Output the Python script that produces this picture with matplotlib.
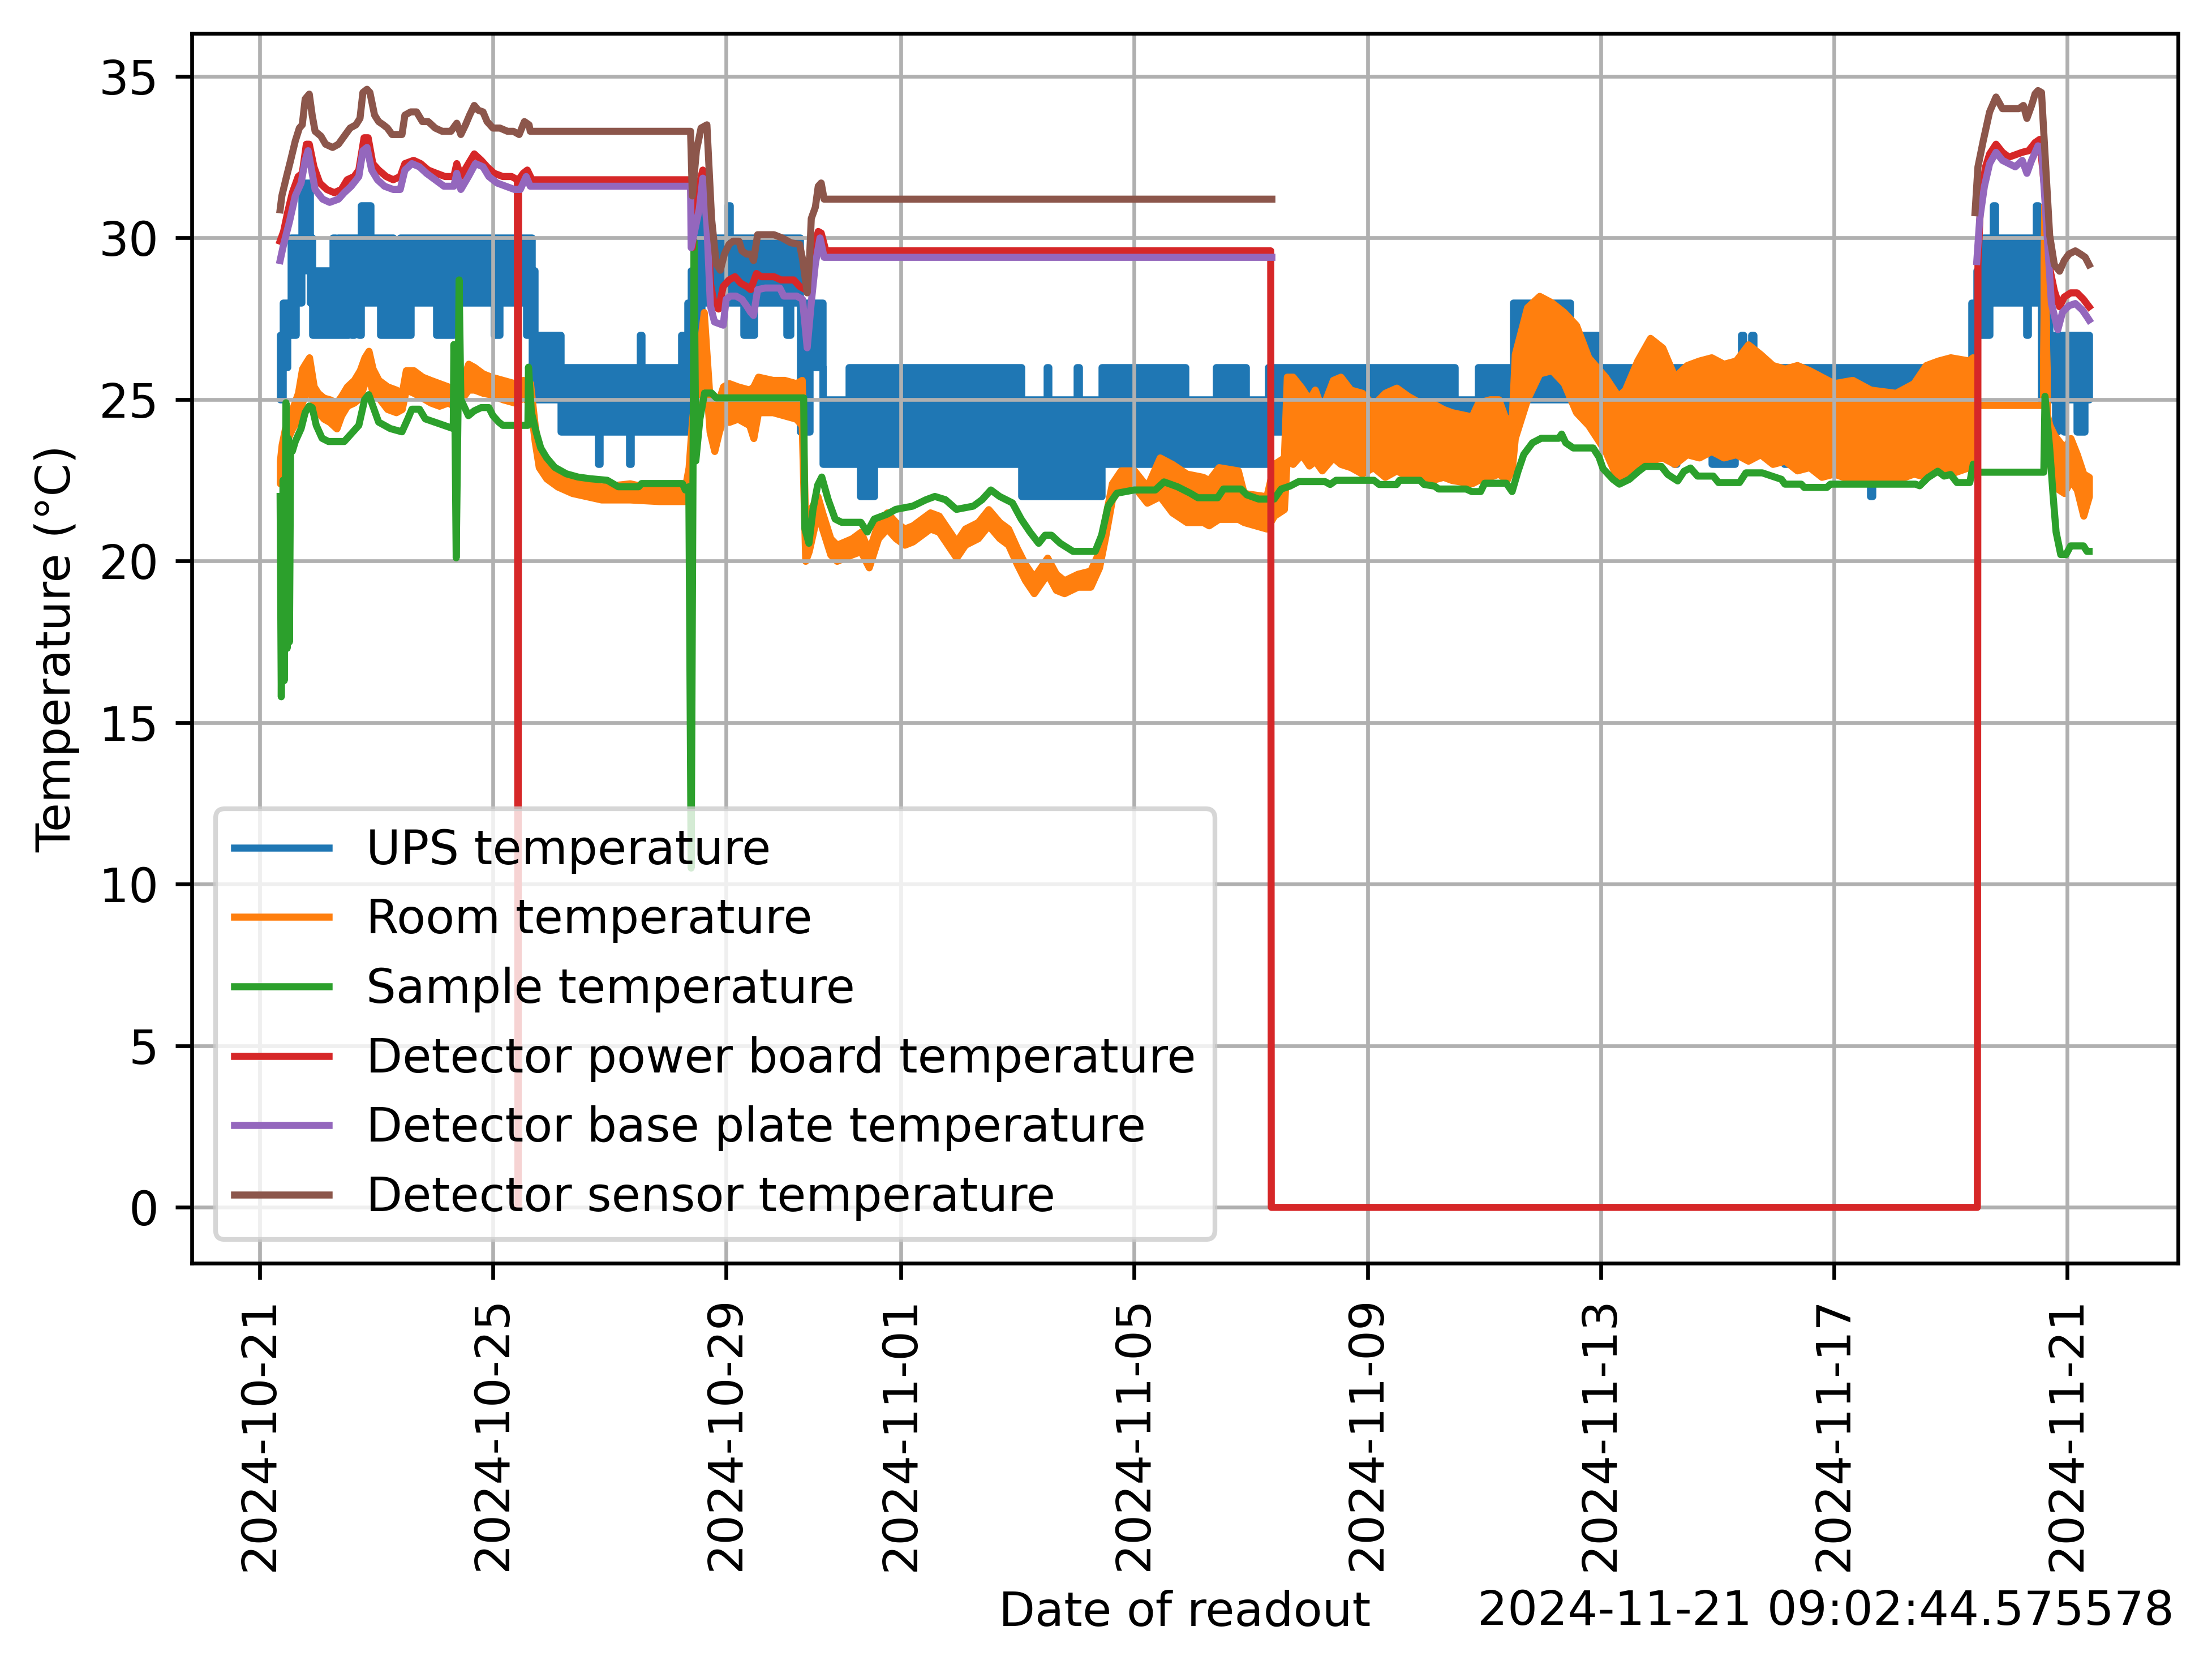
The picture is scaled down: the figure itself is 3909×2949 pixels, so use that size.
import numpy as np
import pandas as pd
import matplotlib
matplotlib.use('Agg')
import matplotlib.pyplot as plt
from matplotlib.lines import Line2D

nan = float('nan')

# all times are days since 2024-10-21 00:00
start = pd.Timestamp('2024-10-21')
readout_stamp = '2024-11-21 09:02:44.575578'

labels = ['UPS temperature', 'Room temperature', 'Sample temperature',
          'Detector power board temperature', 'Detector base plate temperature',
          'Detector sensor temperature']

# UPS temperature: integer readings flicker between a low and a high level
ups_days = [0.35, 0.40, 0.48, 0.53, 0.62, 0.72, 0.86, 0.90, 1.25, 1.30,
            1.34, 1.52, 1.57, 1.62, 1.70, 1.74, 1.90, 2.07, 2.29, 2.41,
            2.59, 3.03, 3.33, 4.02, 4.12, 4.57, 4.67, 4.72, 5.16, 5.80,
            5.83, 6.34, 6.37, 6.52, 6.55, 7.23, 7.26, 7.34, 7.40, 7.50,
            7.58, 8.03, 8.07, 8.30, 8.48, 9.04, 9.10, 9.27, 9.43, 9.66,
            10.10, 10.30, 10.54, 13.06, 13.50, 13.53, 14.02, 14.05, 14.44, 15.88,
            16.40, 16.92, 17.30, 18.20, 18.24, 18.64, 18.68, 19.48, 19.52, 20.50,
            20.90, 21.50, 22.48, 22.95, 23.20, 23.30, 24.25, 24.30, 24.90, 25.30,
            25.41, 25.45, 25.58, 25.62, 26.15, 26.70, 27.62, 27.66, 29.36, 29.45,
            29.56, 29.67, 29.73, 29.77, 30.30, 30.33, 30.47, 30.50, 30.55, 30.70,
            30.80, 30.83, 30.94, 30.97, 31.16, 31.30, 31.376]
ups_low = [25, 26, 27, 27, 28, 29, 28, 27, 27, 27,
           27, 28, 27, 28, 27, 28, 28, 27, 27, 27,
           28, 27, 28, 27, 28, 27, 26, 25, 24, 23,
           24, 23, 24, 24, 24, 24, 24, 25, 27, 27,
           28, 28, 28, 27, 28, 27, 28, 24, 26, 23,
           23, 22, 23, 22, 22, 22, 22, 22, 23, 23,
           23, 23, 24, 23, 24, 23, 24, 23, 24, 24,
           24, 25, 25, 24, 23, 24, 23, 24, 23, 24,
           24, 24, 24, 24, 23, 24, 22, 24, 26, 27,
           27, 28, 28, 28, 27, 28, 28, 28, 25, 25,
           24, 25, 24, 25, 24, 25, 25]
ups_high = [27, 28, 28, 30, 30, 31.7, 30, 29, 30, 29,
            30, 30, 30, 30, 30, 31, 30, 30, 29, 30,
            30, 30, 30, 30, 30, 30, 29, 27, 26, 26,
            26, 26, 26, 27, 26, 27, 26, 28, 29, 31.5,
            30, 31, 30, 30, 30, 30, 30, 28, 28, 25,
            26, 26, 26, 25, 26, 25, 26, 25, 26, 25,
            26, 25, 26, 26, 26, 26, 26, 26, 26, 25,
            26, 28, 27, 26, 26, 26, 26, 26, 26, 26,
            27, 26, 27, 26, 26, 26, 26, 26, 28, 29,
            30, 30, 31, 30, 30, 30, 31, 30, 29, 27,
            27, 27, 27, 27, 27, 27, 27]

# room temperature: noisy trace, lower and upper edge of the trace
room_days = [0.35, 0.38, 0.46, 0.56, 0.66, 0.73, 0.78, 0.85, 0.93, 1.00,
             1.10, 1.20, 1.32, 1.40, 1.50, 1.62, 1.72, 1.80, 1.87, 1.94,
             2.04, 2.19, 2.34, 2.44, 2.51, 2.64, 2.79, 2.93, 3.08, 3.23,
             3.33, 3.48, 3.58, 3.68, 3.83, 3.97, 4.17, 4.37, 4.52, 4.64,
             4.72, 4.79, 4.92, 5.11, 5.36, 5.86, 6.35, 6.85, 7.29, 7.36,
             7.42, 7.50, 7.58, 7.62, 7.66, 7.72, 7.80, 7.88, 7.95, 8.05,
             8.20, 8.40, 8.47, 8.55, 8.80, 9.00, 9.20, 9.30, 9.36, 9.42,
             9.57, 9.65, 9.79, 9.90, 10.16, 10.31, 10.45, 10.61, 10.76, 10.91,
             11.06, 11.20, 11.35, 11.50, 11.65, 11.80, 11.95, 12.10, 12.32, 12.50,
             12.69, 12.84, 12.99, 13.13, 13.28, 13.51, 13.66, 13.80, 14.03, 14.25,
             14.40, 14.51, 14.62, 14.77, 15.00, 15.22, 15.44, 15.65, 15.90, 16.18,
             16.28, 16.45, 16.78, 16.88, 17.27, 17.40, 17.57,
             17.62, 17.72, 17.87, 18.00, 18.10, 18.22, 18.41, 18.54, 18.71, 18.91,
             19.10, 19.30, 19.50, 19.70, 19.90, 20.10, 20.30, 20.45, 20.79, 20.90,
             21.10, 21.25, 21.39, 21.48, 21.53, 21.74, 21.95, 22.16, 22.37, 22.58,
             22.79, 23.08, 23.30, 23.42, 23.63, 23.85, 24.06, 24.27, 24.48, 24.69,
             24.90, 25.11, 25.32, 25.53, 25.74, 25.95, 26.16, 26.37, 26.58, 26.79,
             27.00, 27.32, 27.63, 28.06, 28.37, 28.58, 28.79, 29.00, 29.32, 29.38,
             29.40, 30.59, 30.61, 30.66, 30.70, 30.78, 30.95, 31.06,
             31.17, 31.28, 31.376]
room_low = [22.4, 22.9, 23.7, 24.1, 24.4, 24.9, 25.15, 25.3, 24.9, 24.6,
            24.4, 24.3, 24.1, 24.5, 24.8, 24.9, 25.05, 25.5, 25.7, 25.2,
            25.05, 24.7, 24.6, 24.7, 25.3, 25.2, 25.05, 24.9, 24.8, 24.9,
            24.8, 25.05, 25.3, 25.3, 25.2, 25.15, 25.0, 24.9, 25.05, 24.9,
            23.7, 22.9, 22.55, 22.3, 22.1, 21.9, 21.9, 21.85, 21.85, 22.1,
            23.2, 24.5, 26.0, 26.8, 25.5, 24.0, 23.4, 24.0, 24.4, 24.3,
            24.4, 24.2, 23.8, 24.6, 24.6, 24.5, 24.4, 24.2, 20.0, 20.3,
            21.5, 21.0, 20.2, 20.0, 20.2, 20.3, 19.8, 20.7, 21.0, 20.7,
            20.5, 20.6, 20.8, 21.0, 20.9, 20.5, 20.1, 20.5, 20.7, 21.1,
            20.7, 20.5, 19.9, 19.4, 19.0, 19.6, 19.1, 19.0, 19.2, 19.2,
            19.8, 20.8, 21.9, 22.3, 22.3, 21.8, 22.0, 21.5, 21.2, 21.2,
            21.1, 21.3, 21.3, 21.2, 21.0, 21.4, 21.6,
            23.2, 23.0, 23.3, 22.95, 23.1, 22.8, 23.2, 23.0, 22.9, 22.7,
            22.9, 22.6, 22.8, 22.6, 22.7, 22.5, 22.6, 22.5, 22.4, 22.5,
            22.6, 22.7, 22.5, 22.86, 23.8, 25.0, 25.8, 25.9, 25.5, 24.6,
            24.2, 23.4, 22.5, 22.6, 23.0, 23.1, 23.2, 23.0, 23.3, 23.2,
            23.4, 23.2, 23.3, 23.1, 23.3, 23.0, 23.1, 22.8, 22.9, 22.6,
            22.7, 22.5, 22.6, 22.5, 22.7, 22.6, 22.8, 22.7, 22.9, 22.9,
            24.83, 24.83, 31.0, 24.2, 23.1, 22.3, 22.1, 22.5,
            22.2, 21.4, 22.0]
room_high = [23.1, 23.6, 24.3, 24.7, 25.2, 25.95, 26.1, 26.3, 25.4, 25.2,
             25.05, 25.0, 24.9, 25.1, 25.4, 25.6, 25.9, 26.3, 26.5, 25.95,
             25.6, 25.4, 25.3, 25.2, 25.9, 25.9, 25.7, 25.6, 25.5, 25.4,
             25.3, 25.6, 26.1, 26.0, 25.8, 25.7, 25.6, 25.5, 25.6, 25.5,
             24.2, 23.4, 23.0, 22.6, 22.5, 22.3, 22.4, 22.2, 22.2, 22.9,
             24.4, 25.5, 27.1, 27.7, 26.6, 25.0, 24.6, 25.0, 25.4, 25.5,
             25.4, 25.3, 25.4, 25.7, 25.6, 25.6, 25.5, 25.6, 21.0, 21.5,
             22.0, 21.5, 20.7, 20.5, 20.7, 20.9, 20.3, 21.2, 21.5, 21.2,
             21.0, 21.1, 21.3, 21.5, 21.4, 21.0, 20.6, 21.0, 21.2, 21.6,
             21.2, 21.0, 20.4, 19.9, 19.5, 20.1, 19.6, 19.4, 19.6, 19.7,
             20.3, 21.4, 22.4, 22.8, 22.8, 22.3, 23.2, 23.0, 22.7, 22.6,
             22.5, 22.9, 22.8, 22.1, 22.0, 23.0, 23.2,
             25.7, 25.7, 25.36, 25.0, 25.3, 24.7, 25.6, 25.7, 25.3, 25.2,
             24.83, 25.2, 25.36, 25.1, 24.9, 24.9, 24.7, 24.6, 24.47, 24.9,
             25.0, 25.0, 24.3, 24.5, 26.4, 27.85, 28.2, 28.0, 27.7, 27.3,
             26.3, 25.7, 25.1, 25.3, 26.2, 26.9, 26.6, 25.7, 26.06, 26.2,
             26.3, 26.1, 26.2, 26.7, 26.4, 26.06, 25.95, 26.06, 25.9, 25.7,
             25.5, 25.6, 25.3, 25.2, 25.5, 26.06, 26.2, 26.3, 26.2, 26.3,
             24.83, 24.83, 31.0, 24.5, 24.2, 23.9, 23.5, 23.8,
             23.3, 22.7, 22.6]

# sample temperature
sample_days = [0.35, 0.37, 0.40, 0.42, 0.45, 0.47, 0.49, 0.51, 0.53, 0.56,
               0.61, 0.66, 0.71, 0.78, 0.85, 0.90, 0.97, 1.07, 1.18, 1.45,
               1.55, 1.70, 1.80, 1.87, 1.94, 2.04, 2.24, 2.44, 2.54, 2.61,
               2.74, 2.84, 3.00, 3.16, 3.32, 3.33, 3.35, 3.37, 3.40, 3.42,
               3.45, 3.58, 3.68, 3.80, 3.93, 4.00, 4.10, 4.17, 4.60, 4.61,
               4.66, 4.74, 4.82, 4.92, 5.06, 5.26, 5.46, 5.66, 5.96, 6.15,
               6.50, 6.55, 7.25, 7.30, 7.36, 7.40, 7.45, 7.48, 7.55, 7.63,
               7.75, 7.83, 9.33, 9.35, 9.42, 9.49, 9.57, 9.64, 9.75, 9.87,
               9.98, 10.31, 10.42, 10.54, 10.76, 10.91, 11.20, 11.43, 11.58, 11.76,
               11.95, 12.24, 12.39, 12.54, 12.69, 12.91, 13.06, 13.21, 13.36, 13.47,
               13.58, 13.73, 13.95, 14.33, 14.44, 14.55, 14.70, 15.00, 15.36, 15.51,
               15.74, 15.96, 16.09, 16.43, 16.53, 16.83, 16.93, 17.13, 17.40, 17.52,
               17.67, 17.82, 18.27, 18.36, 18.46, 19.11, 19.20, 19.50, 19.55, 19.90,
               19.97, 20.15, 20.22, 20.69, 20.79, 20.94, 21.01, 21.38, 21.48, 21.58,
               21.68, 21.83, 21.98, 22.28, 22.33, 22.40, 22.53, 22.87, 22.97, 23.04,
               23.21, 23.32, 23.49, 23.65, 23.76, 24.04, 24.15, 24.32, 24.43, 24.54,
               24.66, 24.93, 25.02, 25.38, 25.49, 25.77, 26.10, 26.16, 26.44, 26.49,
               26.88, 26.94, 28.40, 28.47, 28.61, 28.78, 28.89, 29.00, 29.11, 29.33,
               29.39, 29.41, 30.60, 30.62, 30.70, 30.76, 30.81, 30.89, 30.98, 31.06,
               31.28, 31.34, 31.376]
sample_temp = [22.0, 15.8, 22.5, 16.3, 24.9, 17.3, 23.8, 17.5, 23.4, 23.4,
               23.7, 23.9, 24.1, 24.6, 24.8, 24.75, 24.2, 23.8, 23.7, 23.7,
               23.9, 24.2, 25.0, 25.15, 24.8, 24.3, 24.1, 24.0, 24.4, 24.7,
               24.7, 24.4, 24.3, 24.2, 24.1, 26.7, 24.1, 20.1, 24.5, 28.7,
               25.0, 24.5, 24.65, 24.75, 24.75, 24.5, 24.3, 24.2, 24.2, 26.0,
               24.6, 24.0, 23.5, 23.2, 22.9, 22.7, 22.6, 22.55, 22.5, 22.3,
               22.3, 22.4, 22.4, 22.2, 22.3, 10.5, 29.9, 23.1, 24.4, 25.2,
               25.2, 25.05, 25.05, 21.0, 20.55, 21.6, 22.35, 22.6, 21.9, 21.3,
               21.2, 21.2, 20.9, 21.3, 21.45, 21.6, 21.7, 21.9, 22.0, 21.9,
               21.6, 21.7, 21.9, 22.2, 22.0, 21.8, 21.3, 20.9, 20.55, 20.8,
               20.8, 20.55, 20.3, 20.3, 20.8, 21.7, 22.1, 22.2, 22.2, 22.45,
               22.3, 22.1, 21.96, 21.96, 22.23, 22.23, 22.05, 21.92, 21.92, 22.23,
               22.32, 22.46, 22.46, 22.37, 22.5, 22.5, 22.37, 22.37, 22.5, 22.5,
               22.37, 22.32, 22.23, 22.23, 22.15, 22.15, 22.41, 22.41, 22.15, 22.77,
               23.3, 23.66, 23.8, 23.8, 23.93, 23.66, 23.5, 23.5, 23.22, 22.86,
               22.53, 22.38, 22.53, 22.78, 22.93, 22.93, 22.68, 22.48, 22.78, 22.88,
               22.63, 22.63, 22.43, 22.43, 22.73, 22.73, 22.53, 22.38, 22.38, 22.28,
               22.28, 22.38, 22.38, 22.33, 22.58, 22.78, 22.63, 22.68, 22.43, 22.43,
               23.0, 22.75, 22.75, 25.1, 23.5, 22.0, 20.9, 20.2, 20.2, 20.47,
               20.47, 20.3, 20.3]

# detector power board temperature (drops to 0 when the detector is off)
board_days = [0.35, 0.41, 0.48, 0.56, 0.66, 0.73, 0.80, 0.85, 0.93, 1.03,
              1.15, 1.28, 1.40, 1.50, 1.62, 1.70, 1.79, 1.86, 1.94, 2.04,
              2.17, 2.29, 2.41, 2.49, 2.64, 2.76, 2.89, 3.03, 3.18, 3.33,
              3.38, 3.45, 3.58, 3.68, 3.80, 3.90, 4.02, 4.17, 4.32, 4.42,
              4.43, 4.44, 4.52, 4.59, 4.67, 7.39, 7.42, 7.50, 7.60, 7.67,
              7.73, 7.80, 7.87, 7.95, 8.05, 8.15, 8.25, 8.35, 8.42, 8.52,
              8.60, 8.82, 8.94, 9.16, 9.26, 9.36, 9.43, 9.51, 9.58, 9.63,
              9.71, 17.34, 17.35, 29.46, 29.47, 29.52, 29.60, 29.67, 29.78, 29.89,
              30.00, 30.23, 30.34, 30.45, 30.53, 30.62, 30.70, 30.78, 30.87, 30.95,
              31.06, 31.17, 31.28, 31.376]
board_temp = [29.9, 30.2, 30.8, 31.4, 31.9, 32.0, 32.9, 32.9, 32.2, 31.7,
              31.5, 31.4, 31.5, 31.8, 31.9, 32.1, 33.1, 33.1, 32.3, 32.1,
              31.9, 31.8, 31.9, 32.3, 32.4, 32.3, 32.1, 32.0, 31.9, 31.9,
              32.3, 31.9, 32.3, 32.6, 32.4, 32.2, 32.0, 31.9, 31.9, 31.8,
              0.0, 31.8, 32.0, 32.1, 31.8, 31.8, 29.7, 31.4, 32.1, 31.3,
              28.6, 27.9, 27.8, 28.5, 28.7, 28.8, 28.6, 28.5, 28.4, 28.9,
              28.8, 28.8, 28.7, 28.7, 28.5, 28.4, 28.8, 29.7, 30.2, 30.15,
              29.6, 29.6, 0.0, 0.0, 29.17, 31.3, 32.2, 32.6, 32.9, 32.65,
              32.5, 32.65, 32.7, 32.95, 33.05, 31.4, 29.07, 28.37, 27.87, 28.17,
              28.3, 28.3, 28.1, 27.87]

# detector base plate temperature (no readings while the detector is off)
plate_days = [0.35, 0.41, 0.51, 0.61, 0.71, 0.78, 0.83, 0.88, 0.95, 1.08,
              1.20, 1.35, 1.45, 1.57, 1.70, 1.77, 1.84, 1.92, 2.02, 2.14,
              2.29, 2.41, 2.49, 2.61, 2.74, 2.86, 3.01, 3.16, 3.33, 3.38,
              3.45, 3.58, 3.70, 3.83, 3.93, 4.07, 4.22, 4.37, 4.47, 4.57,
              4.64, 7.39, 7.40, 7.54, 7.60, 7.67, 7.73, 7.80, 7.95, 8.00,
              8.07, 8.17, 8.27, 8.35, 8.42, 8.47, 8.54, 8.67, 8.92, 8.99,
              9.21, 9.31, 9.39, 9.46, 9.53, 9.61, 9.68, 17.36, 17.37, 29.45,
              29.50, 29.58, 29.67, 29.78, 29.89, 30.11, 30.23, 30.31, 30.39, 30.50,
              30.56, 30.64, 30.73, 30.84, 30.92, 31.03, 31.14, 31.26, 31.34, 31.376]
plate_temp = [29.3, 29.8, 30.5, 31.3, 31.7, 32.4, 32.7, 32.2, 31.5, 31.2,
              31.1, 31.2, 31.4, 31.6, 31.9, 32.7, 32.8, 32.1, 31.8, 31.6,
              31.5, 31.5, 32.1, 32.3, 32.2, 32.0, 31.8, 31.6, 31.6, 32.0,
              31.5, 31.9, 32.3, 32.2, 31.9, 31.7, 31.6, 31.5, 31.5, 31.9,
              31.6, 31.6, 29.7, 30.9, 31.85, 30.4, 27.9, 27.4, 27.3, 28.1,
              28.2, 28.2, 28.1, 27.9, 27.7, 27.6, 28.4, 28.45, 28.45, 28.2,
              28.2, 28.1, 26.6, 28.0, 29.2, 30.0, 29.4, 29.4, nan, 29.27,
              30.58, 31.59, 32.3, 32.65, 32.4, 32.2, 32.4, 32.0, 32.4, 32.85,
              32.8, 30.58, 27.97, 27.16, 27.7, 27.9, 27.97, 27.77, 27.56, 27.46]

# detector sensor temperature
sensor_days = [0.35, 0.38, 0.46, 0.53, 0.61, 0.68, 0.73, 0.78, 0.85, 0.90,
               0.95, 1.05, 1.13, 1.25, 1.35, 1.45, 1.55, 1.65, 1.72, 1.77,
               1.84, 1.89, 1.97, 2.04, 2.12, 2.19, 2.27, 2.34, 2.44, 2.49,
               2.59, 2.69, 2.79, 2.89, 3.01, 3.13, 3.28, 3.38, 3.45, 3.53,
               3.60, 3.68, 3.75, 3.83, 3.90, 4.00, 4.12, 4.25, 4.35, 4.45,
               4.54, 4.62, 4.64, 7.39, 7.42, 7.49, 7.57, 7.67, 7.75, 7.83,
               7.90, 7.97, 8.05, 8.12, 8.22, 8.27, 8.35, 8.42, 8.47, 8.54,
               8.82, 8.96, 9.11, 9.26, 9.31, 9.39, 9.43, 9.46, 9.53, 9.58,
               9.63, 9.68, 17.36, 17.37, 29.42, 29.47, 29.56, 29.67, 29.78, 29.89,
               30.17, 30.25, 30.31, 30.39, 30.45, 30.50, 30.56, 30.62, 30.70, 30.78,
               30.87, 30.95, 31.03, 31.14, 31.23, 31.31, 31.376]
sensor_temp = [30.87, 31.3, 31.9, 32.4, 33.0, 33.4, 33.5, 34.3, 34.45, 33.8,
               33.3, 33.15, 32.9, 32.8, 32.9, 33.15, 33.4, 33.5, 33.7, 34.5,
               34.6, 34.5, 33.8, 33.6, 33.5, 33.4, 33.2, 33.2, 33.2, 33.8,
               33.9, 33.9, 33.6, 33.6, 33.4, 33.3, 33.3, 33.55, 33.2, 33.5,
               33.8, 34.1, 33.95, 33.9, 33.6, 33.4, 33.4, 33.3, 33.3, 33.2,
               33.6, 33.5, 33.3, 33.3, 31.3, 32.7, 33.4, 33.5, 30.6, 29.2,
               29.0, 29.5, 29.8, 29.9, 29.9, 29.6, 29.5, 29.5, 29.3, 30.1,
               30.1, 30.0, 29.85, 29.8, 29.35, 28.3, 29.35, 30.6, 30.95, 31.6,
               31.7, 31.2, 31.2, nan, 30.78, 32.2, 33.0, 33.9, 34.36, 34.0,
               34.0, 34.1, 33.7, 34.1, 34.46, 34.56, 34.5, 32.6, 30.08, 29.17,
               28.97, 29.3, 29.5, 29.6, 29.5, 29.4, 29.17]


def to_time(days):
    return (start + pd.to_timedelta(np.asarray(days, dtype=float), unit='D')).to_numpy()


fig = plt.figure(figsize=(3909 / 600, 2949 / 600), dpi=600)
ax = fig.add_axes([0.0867, 0.2431, 0.8979, 0.7369])

ax.fill_between(to_time(ups_days), ups_low, ups_high, step='post',
                color='C0', linewidth=1.5, joinstyle='round')
ax.fill_between(to_time(room_days), room_low, room_high,
                color='C1', linewidth=1.5, joinstyle='round')
ax.plot(to_time(sample_days), sample_temp, color='C2', linewidth=1.5)
ax.plot(to_time(board_days), board_temp, color='C3', linewidth=1.5)
ax.plot(to_time(plate_days), plate_temp, color='C4', linewidth=1.5)
ax.plot(to_time(sensor_days), sensor_temp, color='C5', linewidth=1.5)

ax.set_xlim(start - pd.Timedelta(days=1.165), start + pd.Timedelta(days=32.90))
ax.set_ylim(-1.73, 36.33)
ax.grid(True)
ax.tick_params(axis='x', labelrotation=90)
ax.set_xlabel('Date of readout')
ax.set_ylabel('Temperature (°C)')

handles = [Line2D([], [], color='C%d' % i, linewidth=1.5) for i in range(6)]
ax.legend(handles, labels, loc='lower left')

fig.text(0.668, 0.0265, readout_stamp, va='baseline')

fig.savefig('out.png', dpi=600)
